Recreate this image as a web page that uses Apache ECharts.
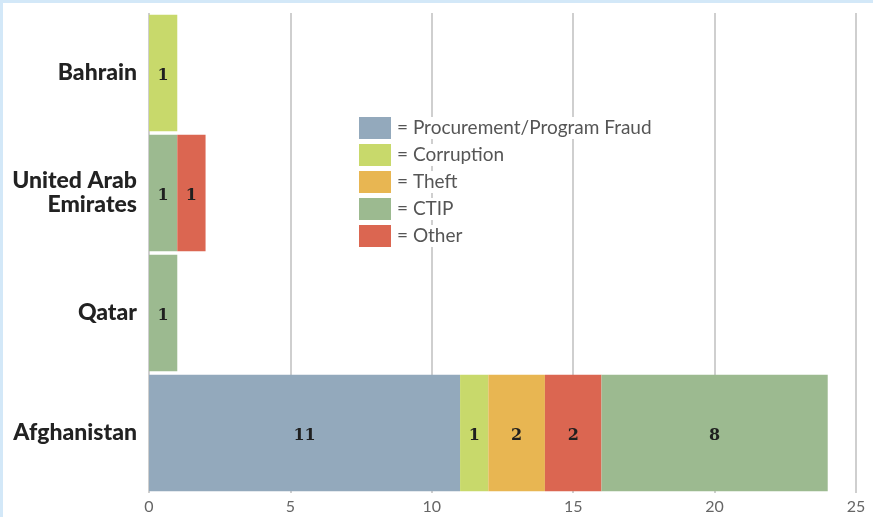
<!DOCTYPE html>
<html>
<head>
<meta charset="utf-8">
<script src="https://cdn.jsdelivr.net/npm/echarts@6/dist/echarts.min.js"></script>
<style>
  html, body { margin: 0; padding: 0; background: #fff; }
  #frame { width: 870px; height: 514px; border-left: 3px solid #d3e8f8; border-top: 3px solid #d3e8f8; }
  #chart { width: 870px; height: 514px; }
</style>
</head>
<body>
<div id="frame"><div id="chart"></div></div>
<script>
// categories, bottom to top
const countries = ['Afghanistan', 'Qatar', 'United Arab Emirates', 'Bahrain']
const xTicks = [0, 5, 10, 15, 20, 25]

// values per category
const fraud = [11, null, null, null]
const corruption = [1, null, null, 1]
const theft = [2, null, null, null]
const ctipFirst = [null, 1, 1, null]   // CTIP drawn before Other
const other = [2, null, 1, null]
const ctipLast = [8, null, null, null] // CTIP drawn after Other

const legendNames = ['Procurement/Program Fraud', 'Corruption', 'Theft', 'CTIP', 'Other']
const colors = {
  'Procurement/Program Fraud': '#93a9bc',
  'Corruption': '#c8d96b',
  'Theft': '#e8b652',
  'CTIP': '#9cba90',
  'Other': '#db6651'
}

const chart = echarts.init(document.getElementById('chart'))

const makeSeries = (name, data) => ({
  name,
  type: 'bar',
  stack: 'total',
  barCategoryGap: '3%',
  data,
  itemStyle: { color: colors[name] },
  label: {
    show: true,
    position: 'inside',
    offset: [0, 3],
    color: '#1f1f1f',
    fontFamily: 'DejaVu Serif',
    fontWeight: 'bold',
    fontSize: 16,
    formatter: (p) => (p.value ? p.value : '')
  }
})

const option = {
  animation: false,
  grid: { left: 146, right: 17, top: 10, bottom: 24 },
  legend: {
    orient: 'vertical',
    left: 351,
    top: 109,
    data: legendNames,
    icon: 'rect',
    itemWidth: 32,
    itemHeight: 22,
    itemGap: 5,
    formatter: (name) => '= ' + name,
    textStyle: {
      color: '#555',
      fontFamily: 'Lato',
      fontSize: 19,
      lineHeight: 22,
      backgroundColor: '#fff',
      padding: [0, 1]
    }
  },
  xAxis: {
    type: 'value',
    min: 0,
    max: 25,
    interval: 5,
    axisLine: { show: false },
    axisTick: { show: false },
    splitLine: { lineStyle: { color: '#cfcfcf', width: 2 } },
    axisLabel: {
      color: '#666',
      fontFamily: 'Lato',
      fontSize: 16,
      margin: 6,
      formatter: (v) => (xTicks.includes(v) ? String(v) : '')
    }
  },
  yAxis: {
    type: 'category',
    data: countries,
    axisLine: { show: false },
    axisTick: { show: false },
    axisLabel: {
      color: '#222',
      fontFamily: 'Lato',
      fontWeight: 900,
      fontSize: 23,
      lineHeight: 24,
      margin: 12,
      padding: [6, 0, 0, 0],
      align: 'right',
      formatter: (v) => (v === 'United Arab Emirates' ? 'United Arab\nEmirates' : v)
    }
  },
  series: [
    makeSeries('Procurement/Program Fraud', fraud),
    makeSeries('Corruption', corruption),
    makeSeries('Theft', theft),
    makeSeries('CTIP', ctipFirst),
    makeSeries('Other', other),
    makeSeries('CTIP', ctipLast)
  ]
}

chart.setOption(option)
</script>
</body>
</html>
